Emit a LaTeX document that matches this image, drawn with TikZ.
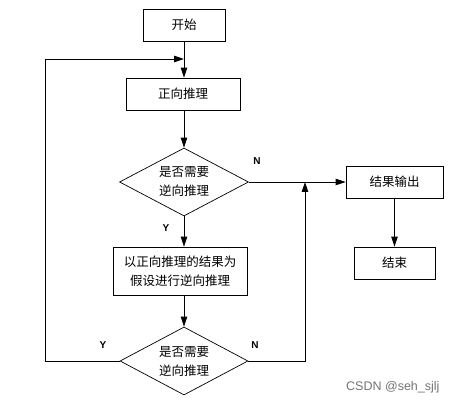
\documentclass[tikz,border=0pt]{standalone}
\usepackage{fontspec}
\newfontfamily\cjk{Noto Sans CJK SC}
\newfontfamily\lat{Liberation Sans}
\usetikzlibrary{arrows.meta,shapes.geometric}
\begin{document}
\begin{tikzpicture}[x=1pt,y=-1pt,
  txt/.style={font=\cjk\fontsize{12.5}{19}\selectfont, align=center},
  box/.style={txt, draw, line width=0.7pt, inner sep=0pt},
  dia/.style={txt, draw, diamond, aspect=1.9, inner sep=0pt, line width=0.7pt},
  conn/.style={line width=0.8pt, -{Triangle[length=10pt,width=6.5pt]}},
  yn/.style={font=\lat\bfseries\fontsize{10}{12}\selectfont}
]
\useasboundingbox (0,0) rectangle (458,403);
\node[box, minimum width=82pt, minimum height=32pt] (start) at (184,25) {开始};
\node[box, minimum width=114pt, minimum height=32pt] (fwd) at (183,94) {正向推理};
\node[dia, minimum width=129pt, minimum height=68pt] (d1) at (184,182) {是否需要\\逆向推理};
\node[box, minimum width=134pt, minimum height=48pt] (hyp) at (180,271) {以正向推理的结果为\\假设进行逆向推理};
\node[dia, minimum width=128pt, minimum height=68pt] (d2) at (184,361) {是否需要\\逆向推理};
\node[box, minimum width=97pt, minimum height=32pt] (out) at (394.5,182) {结果输出};
\node[box, minimum width=81pt, minimum height=32pt] (end) at (394.5,263) {结束};

\coordinate (lp) at (45,361);
\coordinate (lj) at (184,59);
\coordinate (rp) at (305,361);
\coordinate (rj) at (305,182);

\draw[conn] (start.south) -- (start.south |- fwd.north);
\draw[conn] (start.south |- fwd.south) -- (d1.north);
\draw[conn] (d1.south) -- (d1.south |- hyp.north);
\draw[conn] (d2.north |- hyp.south) -- (d2.north);
\draw[conn] (d1.east) -- (out.west);
\draw[conn] (d2.west) -- (lp) -- (lp |- lj) -- (lj);
\draw[conn] (d2.east) -- (rp) -- (rj);
\draw[conn] (out.south -| end.north) -- (end.north);

\node[yn] (n1) at (257,161.5) {N};
\node[yn] (y1) at (166,228) {Y};
\node[yn] (y2) at (103,345) {Y};
\node[yn] (n2) at (255,345) {N};
\node[font=\lat\fontsize{12.5}{14}\selectfont, text=black!55, anchor=east] (wm) at (443,387) {CSDN @seh\_sjlj};
\end{tikzpicture}
\end{document}
